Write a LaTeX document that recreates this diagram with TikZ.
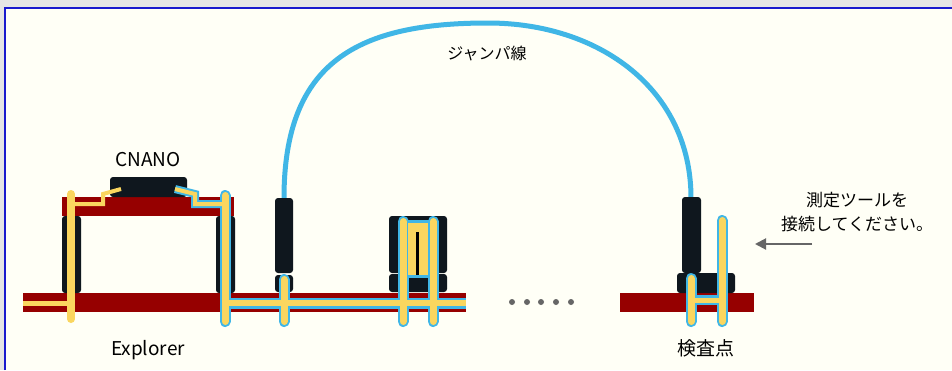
\documentclass[tikz,border=0pt]{standalone}
\usepackage{fontspec}
\setmainfont{Noto Sans CJK JP}
\usetikzlibrary{arrows.meta,calc}

\definecolor{board}{RGB}{150,0,0}
\definecolor{part}{RGB}{15,23,30}
\definecolor{lead}{RGB}{250,214,95}
\definecolor{wire}{RGB}{64,182,230}
\definecolor{paper}{RGB}{255,255,246}
\definecolor{frame}{RGB}{25,25,205}

\tikzset{
	part/.style={fill=part, rounded corners=3pt},
	pinout/.style={draw=wire, line width=11pt, line cap=round},
	pinin/.style={draw=lead, line width=7pt, line cap=round},
	traceout/.style={draw=wire, line width=11pt},
	tracein/.style={draw=lead, line width=6pt},
	label/.style={font=\fontsize{16}{20}\selectfont, text=black, align=center},
	biglabel/.style={font=\fontsize{19}{22}\selectfont, text=black},
}

\begin{document}
\begin{tikzpicture}[x=1pt, y=-1pt]
	\useasboundingbox (0,0) rectangle (952,370);
	\fill[black!10] (0,0) rectangle (952,370);
	\fill[paper] (5,8) rectangle (952,370);
	\draw[frame, line width=2pt] (5,370) -- (5,8) -- (952,8);

	% boards
	\fill[board] (23,293) rectangle (466,312);
	\fill[board] (620,293) rectangle (754,312);
	\fill[board] (62,197) rectangle (234,216);

	% CNANO and headers
	\fill[part] (110,177) rectangle (187,197);
	\fill[part] (62,216) rectangle (81,293);
	\fill[part] (216,216) rectangle (235,293);
	\fill[part] (275,275) rectangle (293,292);
	\fill[part] (389,216) rectangle (447,273);
	\fill[part] (389,274) rectangle (447,292);
	\fill[part] (677,273) rectangle (735,293);

	% pins: x and top end of each
	\coordinate (p1) at (225,190);
	\coordinate (p2) at (284,274);
	\coordinate (p3) at (403,216);
	\coordinate (p4) at (433,216);
	\coordinate (p5) at (691,273);
	\coordinate (p6) at (722,215);

	\draw[lead, line width=8pt, line cap=round] (71,194) -- (71,319);
	\draw[lead, line width=4pt] (121,189) -- (103,194) -- (103,204) -- (71,204);
	\draw[lead, line width=5pt] (23,303) -- (71,303);

	\path[traceout] (225,303) -- (466,303);
	\path[draw=wire, line width=8pt] (175,189) -- (195,194) -- (195,204) -- (225,204);
	\fill[wire] (405,220) rectangle (431,278);
	\path[traceout, line width=10pt] (691,300) -- (722,300);
	\foreach \p in {p1,p2,p3,p4,p5,p6}
		\path[pinout] ($(\p)+(0,5.5)$) -- ($(\p |- 0,321.5)$);

	\path[tracein] (225,303) -- (466,303);
	\path[draw=lead, line width=4pt] (175,189) -- (195,194) -- (195,204) -- (225,204);
	\fill[lead] (408,223) rectangle (428,275);
	\draw[part, line width=3pt] (417,232) -- (417,275);
	\path[tracein, line width=5pt] (691,300) -- (722,300);
	\foreach \p in {p1,p2,p3,p4,p5,p6}
		\path[pinin] ($(\p)+(0,5.5)$) -- ($(\p |- 0,321.5)$);

	% jumper wire
	\draw[wire, line width=5pt] (284,198) .. controls (284,60) and (360,23) .. (488,23)
		.. controls (600,23) and (691,90) .. (691,198);
	\fill[part] (275,198) rectangle (293,273);
	\fill[part] (682,197) rectangle (701,273);

	% dots
	\foreach \x in {512,527,541,556,571}
		\fill[black!60] (\x,302) circle (3pt);

	\node[label] (jumper) at (487,53) {ジャンパ線};
	\node[biglabel] (cnano) at (148,160) {CNANO};
	\node[biglabel] (explorer) at (148,350) {Explorer};
	\node[biglabel] (point) at (706,348) {検査点};
	\node[label, font=\fontsize{17}{24}\selectfont] (hint) at (857,212) {測定ツールを\\接続してください。};
	\coordinate (tail) at (812,244);
	\coordinate (head) at (755,244);
	\draw[black!60, line width=2pt, -{Triangle[length=11pt, width=11pt]}] (tail) -- (head);
\end{tikzpicture}
\end{document}
